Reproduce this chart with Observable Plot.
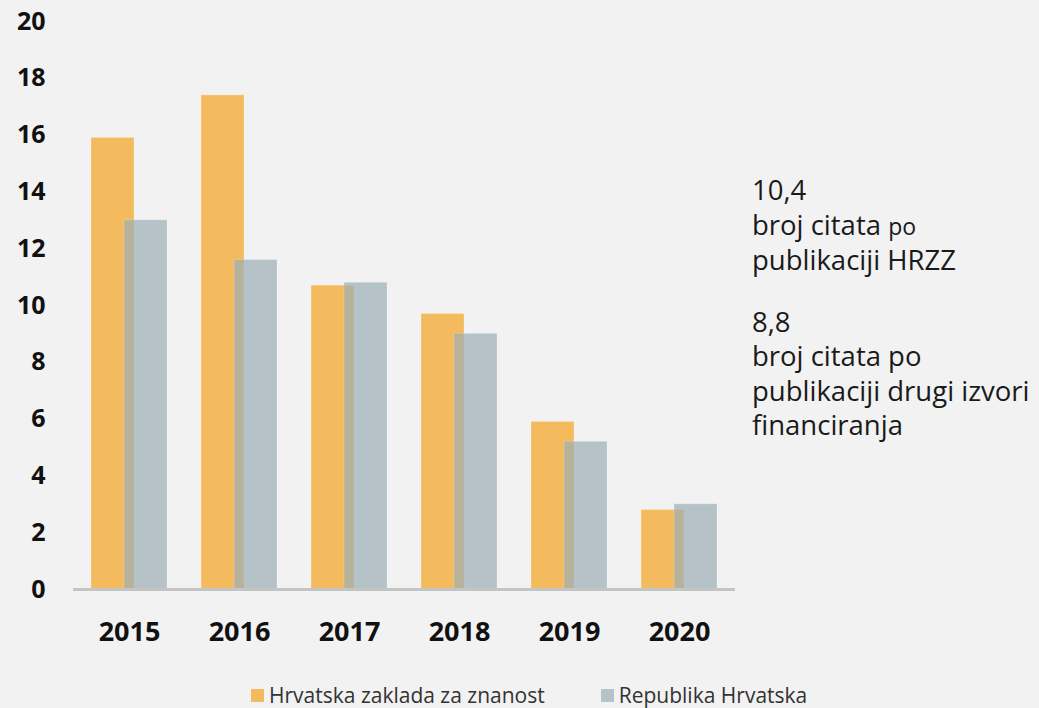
<!DOCTYPE html>
<html>
<head>
<meta charset="utf-8">
<script src="https://cdn.jsdelivr.net/npm/d3@7"></script>
<script src="https://cdn.jsdelivr.net/npm/@observablehq/plot@0.6"></script>
<style>
  html, body { margin: 0; padding: 0; background: #f2f2f2; }
  #wrap { position: relative; width: 1039px; height: 708px; background: #f2f2f2; font-family: "Open Sans", sans-serif; overflow: hidden; }
  #chart { position: absolute; left: 0; top: 0; }
  #note { position: absolute; left: 752px; top: 173px; font-size: 27.5px; line-height: 34.5px; color: #1a1a1a; white-space: nowrap; }
  #note .sm { font-size: 23px; }
  #legend { position: absolute; left: 251px; top: 681px; font-size: 21px; line-height: 28px; color: #333; display: flex; align-items: center; white-space: nowrap; }
  #legend .sw { display: inline-block; width: 13px; height: 13px; margin-right: 5px; }
  #legend .item { display: flex; align-items: center; margin-right: 56px; }
</style>
</head>
<body>
<div id="wrap">
  <div id="chart"></div>
  <div id="note">
    <div>10,4</div>
    <div>broj citata <span class="sm">po</span></div>
    <div>publikaciji HRZZ</div>
    <div style="height:27px"></div>
    <div>8,8</div>
    <div>broj citata po</div>
    <div>publikaciji drugi izvori</div>
    <div>financiranja</div>
  </div>
  <div id="legend"></div>
</div>
<script>
const years = ["2015", "2016", "2017", "2018", "2019", "2020"];
const hrzz = [15.9, 17.4, 10.7, 9.7, 5.9, 2.8];
const rh = [13.0, 11.6, 10.8, 9.0, 5.2, 3.0];
const seriesNames = ["Hrvatska zaklada za znanost", "Republika Hrvatska"];
const seriesColors = ["#f4ba5e", "#9bafb6"];
const legendColors = ["#f4ba5e", "#b4c3c8"];
const yTicks = [0, 2, 4, 6, 8, 10, 12, 14, 16, 18, 20];

const dataA = years.map((y, i) => ({year: y, value: hrzz[i]}));
const dataB = years.map((y, i) => ({year: y, value: rh[i]}));

const chart = Plot.plot({
  width: 1039,
  height: 660,
  marginLeft: 73,
  marginRight: 304,
  marginTop: 21,
  marginBottom: 71,
  style: {background: "transparent", fontFamily: "Open Sans, sans-serif"},
  x: {domain: years, padding: 0, label: null},
  y: {domain: [0, 20], label: null},
  marks: [
    Plot.barY(dataA, {x: "year", y: "value", fill: seriesColors[0], insetLeft: 17, insetRight: 50, stroke: "#fff", strokeOpacity: 0.25, strokeWidth: 1}),
    Plot.barY(dataB, {x: "year", y: "value", fill: seriesColors[1], fillOpacity: 0.7, insetLeft: 50, insetRight: 17, stroke: "#fff", strokeOpacity: 0.2, strokeWidth: 1}),
    Plot.ruleY([0], {stroke: "#c4c4c4", strokeWidth: 3}),
    Plot.axisY({ticks: yTicks, tickSize: 0, tickPadding: 28, fontSize: 25, fontWeight: "bold", fill: "#111", label: null}),
    Plot.axisX({tickSize: 0, tickPadding: 32, fontSize: 27, fontWeight: "bold", fill: "#111", label: null})
  ]
});
document.getElementById("chart").appendChild(chart);

const legend = document.getElementById("legend");
seriesNames.forEach((n, i) => {
  const it = document.createElement("div");
  it.className = "item";
  const sw = document.createElement("span");
  sw.className = "sw";
  sw.style.background = legendColors[i];
  it.appendChild(sw);
  const t = document.createElement("span");
  t.textContent = n;
  it.appendChild(t);
  legend.appendChild(it);
});
</script>
</body>
</html>
